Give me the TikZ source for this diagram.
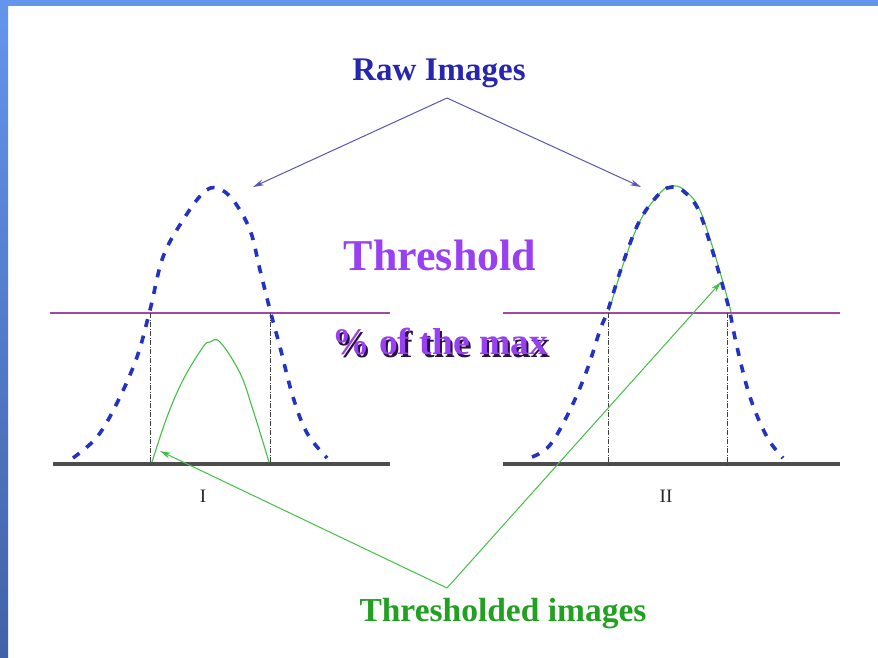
\documentclass[tikz,border=0pt]{standalone}
\usepackage{fontspec}
\setmainfont{Liberation Serif}
\usetikzlibrary{arrows.meta}
\definecolor{barblue}{HTML}{6495ED}
\definecolor{bardark}{HTML}{4262A8}
\definecolor{rawblue}{HTML}{2626B0}
\definecolor{arrblue}{HTML}{5a55b8}
\definecolor{curveblue}{HTML}{2233C4}
\definecolor{thrgreen}{HTML}{22A022}
\definecolor{lngreen}{HTML}{44C044}
\definecolor{thrpurple}{HTML}{9940F2}
\definecolor{thrline}{HTML}{A04AA8}
\definecolor{shadowc}{HTML}{2a1048}
\tikzset{
  rawcurve/.style={curveblue, line width=3.6pt, dash pattern=on 8pt off 9pt},
  greencurve/.style={lngreen, line width=1.1pt},
  ground/.style={black!70, line width=3.5pt},
  thresh/.style={thrline, line width=1.2pt},
  vdrop/.style={black!75, line width=0.8pt, dash pattern=on 5pt off 1.5pt on 1pt off 1.5pt},
  rawarrow/.style={arrblue, line width=1pt, -{Stealth[length=11pt,width=6pt]}},
  grarrow/.style={lngreen, line width=1pt, -{Stealth[length=11pt,width=6pt]}},
  lbl/.style={inner sep=0pt, font=\bfseries},
}
\newcommand{\shadowtext}[1]{\rlap{\kern2.5pt\raisebox{-2.5pt}{\color{shadowc}#1}}#1}
\begin{document}
\begin{tikzpicture}[x=1pt,y=-1pt]
\useasboundingbox (0,0) rectangle (878,657);
\fill[white] (0,0) rectangle (878,657);
% frame bars
\fill[barblue] (0,0) rectangle (878,6);
\shade[top color=barblue, bottom color=bardark] (0,0) rectangle (8,657);
% ground lines
\draw[ground] (53,464) -- (390,464);
\draw[ground] (503,464) -- (840,464);
% threshold lines
\draw[thresh] (50,313) -- (390,313);
\draw[thresh] (503,313) -- (840,313);
% vertical drops
\draw[vdrop] (150,313) -- (150,464);
\draw[vdrop] (270,313) -- (270,464);
\draw[vdrop] (608,313) -- (608,464);
\draw[vdrop] (727,313) -- (727,464);
% left green (thresholded) curve
\draw[greencurve] plot[smooth, tension=0.6] coordinates {(152,462) (167,417) (183,380) (203,347) (210,342) (220,342) (240,373) (253,410) (269,462)};
% right green curve
\draw[greencurve] plot[smooth, tension=0.6] coordinates {(609,311) (624,262) (641,219) (661,192) (672,186) (683,189) (698,206) (711,242) (724,286) (731,312)};
% raw dashed curves
\draw[rawcurve] plot[smooth, tension=0.6] coordinates {(73,458) (97,437) (117,403) (137,357) (150,310) (163,257) (183,220) (203,193) (217,188) (233,200) (250,230) (260,270) (270,310) (280,347) (293,397) (307,433) (327,458)};
\draw[rawcurve] plot[smooth, tension=0.6] coordinates {(532,457) (550,445) (570,410) (587,370) (600,330) (608,310) (623,263) (640,220) (660,193) (672,187) (682,190) (697,207) (710,243) (723,287) (730,313) (737,347) (750,397) (767,437) (783,458)};
% labels
\node[lbl, rawblue, font=\bfseries\fontsize{33}{33}\selectfont] (raw) at (439,73) {Raw Images};
\node[lbl, thrgreen, font=\bfseries\fontsize{33.5}{33.5}\selectfont] (thr) at (503,614) {Thresholded images};
\node[lbl, thrpurple, font=\bfseries\fontsize{44}{44}\selectfont] (threshold) at (440,255) {Threshold};
\node[lbl, thrpurple, font=\bfseries\fontsize{37.5}{37.5}\selectfont] (pct) at (440,343) {\shadowtext{\% of the max}};
\node[inner sep=0pt, black!85, font=\fontsize{19}{19}\selectfont] (one) at (203,496) {I};
\node[inner sep=0pt, black!85, font=\fontsize{19}{19}\selectfont] (two) at (666,496) {II};
% connector coordinates
\coordinate (rawapex) at (447,98);
\coordinate (rawL) at (253,187);
\coordinate (rawR) at (641,187);
\coordinate (thrapex) at (447,588);
\coordinate (thrL) at (160,451);
\coordinate (thrR) at (721,282);
\draw[rawarrow] (rawapex) -- (rawL);
\draw[rawarrow] (rawapex) -- (rawR);
\draw[grarrow] (thrapex) -- (thrL);
\draw[grarrow] (thrapex) -- (thrR);
\end{tikzpicture}
\end{document}
